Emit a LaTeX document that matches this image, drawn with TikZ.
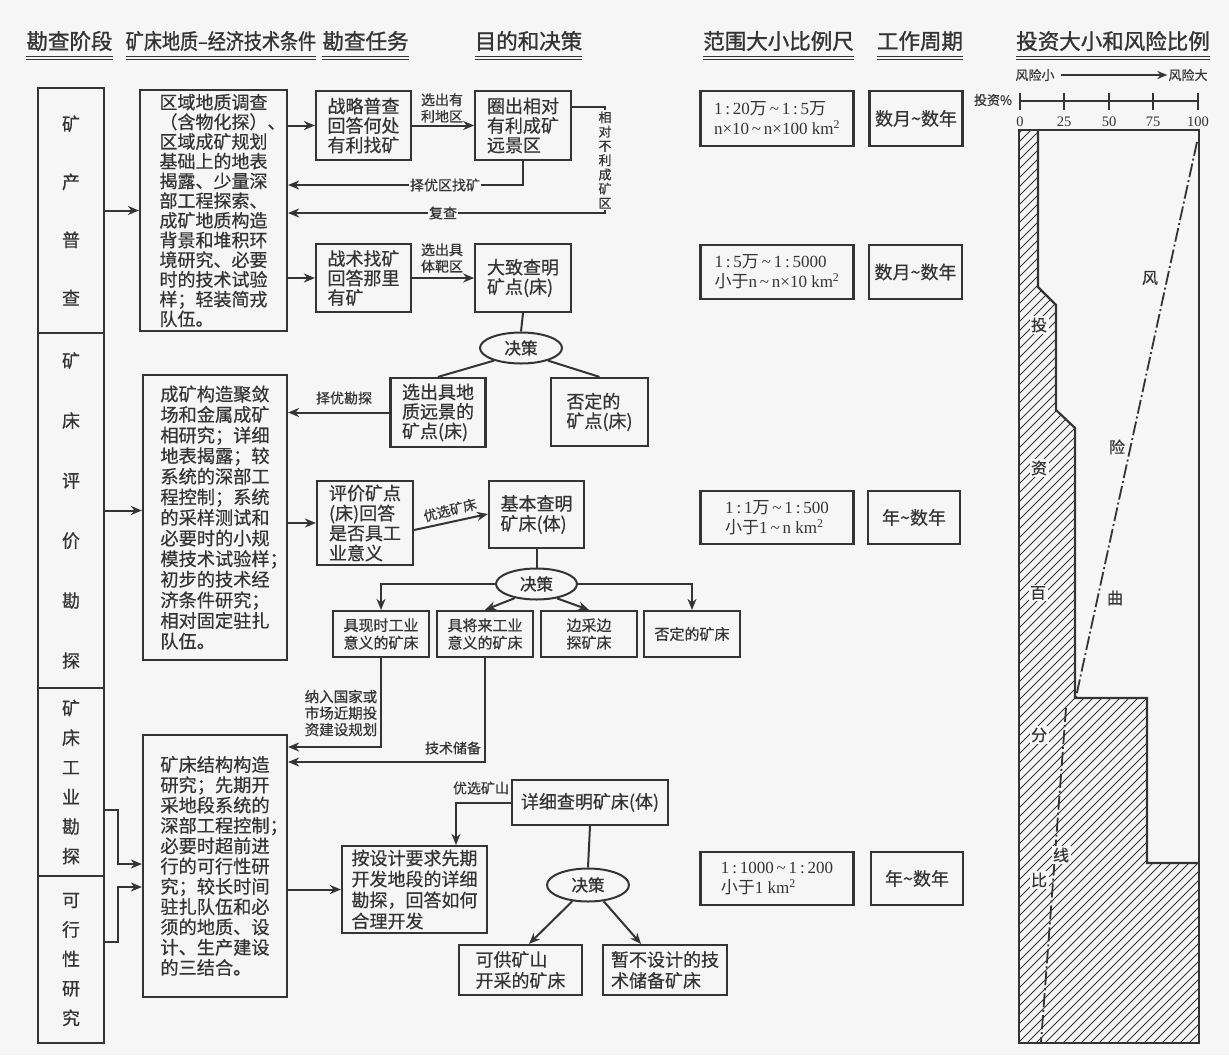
\documentclass[tikz,border=0pt]{standalone}
\usepackage{fontspec}
\usepackage{graphicx}
\setmainfont{Noto Sans CJK SC}
\newfontfamily\hdfont[FakeBold=1.2]{Noto Sans CJK SC}
\newfontfamily\bfont[FakeBold=0.5]{Noto Sans CJK SC}
\newfontfamily\ser{Liberation Serif}
\usetikzlibrary{arrows.meta,shapes.geometric}
\definecolor{bg}{HTML}{F6F6F6}
\definecolor{ink}{HTML}{343434}
\newcommand{\fsz}[2]{\fontsize{#1}{#2}\selectfont}
\newcommand{\tld}{\textasciitilde}
\begin{document}
\begin{tikzpicture}[x=1pt,y=-1pt,
 bx/.style={draw=ink,line width=2.2pt,inner sep=0pt,text=ink,align=left},
 hd/.style={inner sep=0pt,text=ink,font=\hdfont\fsz{21.5}{22}},
 ul/.style={draw=ink,line width=1.1pt},
 ln/.style={draw=ink,line width=2pt},
 arr/.style={draw=ink,line width=2pt,-{Stealth[length=11pt,width=9pt]}},
 lbl/.style={inner sep=1pt,text=ink,align=center,font=\bfont\fsz{14}{16.5}},
 dec/.style={draw=ink,line width=2pt,ellipse,inner sep=0pt,text=ink,font=\hdfont\fsz{16.5}{18}},
 num/.style={inner sep=0pt,text=ink,font=\ser\fsz{14.5}{16}},
 chl/.style={inner sep=1.5pt,text=ink,font=\bfont\fsz{16}{18}},
 hatch/.style={draw=ink,line width=0.8pt},
 risk/.style={draw=ink,line width=1.8pt,dash pattern=on 14pt off 3pt on 2pt off 3pt},
]
\fill[bg] (0,0) rectangle (1229,1055);
\useasboundingbox (0,0) rectangle (1229,1055);

% ---------- headers ----------
\node[hd] (h1) at (69.5,41) {勘查阶段};
\node[hd] (h2) at (221,41) {\scalebox{0.84}[1]{矿床地质–经济技术条件}};
\node[hd] (h3) at (365.5,41) {勘查任务};
\node[hd] (h4) at (528.5,41) {目的和决策};
\node[hd] (h5) at (778.5,41) {范围大小比例尺};
\node[hd] (h6) at (920,41) {工作周期};
\node[hd] (h7) at (1113,41) {投资大小和风险比例};
\foreach \i in {1,...,7}{
  \draw[ul] (h\i.west |- 0,56.5) -- (h\i.east |- 0,56.5);
  \draw[ul] (h\i.west |- 0,59.5) -- (h\i.east |- 0,59.5);
}

% ---------- stage boxes ----------
\node[bx,align=center,font=\bfont\fsz{18}{58},minimum width=66pt,minimum height=245pt] (st1) at (71,210.5) {矿\\产\\普\\查};
\node[bx,align=center,font=\bfont\fsz{18}{60},minimum width=66pt,minimum height=355pt] (st2) at (71,510.5) {矿\\床\\评\\价\\勘\\探};
\node[bx,align=center,font=\bfont\fsz{18}{29.6},minimum width=66pt,minimum height=188pt] (st3) at (71,782) {矿\\床\\工\\业\\勘\\探};
\node[bx,align=center,font=\bfont\fsz{18}{29.5},minimum width=66pt,minimum height=167pt] (st4) at (71,959.5) {可\\行\\性\\研\\究};

% ---------- condition boxes ----------
\node[bx,font=\bfont\fsz{18}{19.7},minimum width=147pt,minimum height=241pt] (cA) at (213.5,210.5)
 {区域地质调查\\（含物化探）\rlap{、}\\区域成矿规划\\基础上的地表\\揭露、少量深\\部工程探索、\\成矿地质构造\\背景和堆积环\\境研究、必要\\时的技术试验\\样；轻装简戎\\队伍。};
\node[bx,font=\bfont\fsz{18.2}{20.6},minimum width=144pt,minimum height=285pt] (cB) at (215,517.5)
 {成矿构造聚敛\\场和金属成矿\\相研究；详细\\地表揭露；较\\系统的深部工\\程控制；系统\\的采样测试和\\必要时的小规\\模技术试验样\rlap{；}\\初步的技术经\\济条件研究；\\相对固定驻扎\\队伍。};
\node[bx,font=\bfont\fsz{18.2}{20.3},minimum width=144pt,minimum height=262pt] (cC) at (215,866)
 {矿床结构构造\\研究；先期开\\采地段系统的\\深部工程控制\rlap{；}\\必要时超前进\\行的可行性研\\究；较长时间\\驻扎队伍和必\\须的地质、设\\计、生产建设\\的三结合。};

% ---------- task / decision boxes ----------
\node[bx,font=\bfont\fsz{18}{19.5},minimum width=95pt,minimum height=69pt] (t1) at (363.5,125.5) {战略普查\\回答何处\\有利找矿};
\node[bx,font=\bfont\fsz{18}{19.5},minimum width=95pt,minimum height=68pt] (t2) at (363.5,278) {战术找矿\\回答那里\\有矿};
\node[bx,font=\bfont\fsz{18}{19.5},minimum width=95.5pt,minimum height=69pt] (d1) at (523,125.5) {圈出相对\\有利成矿\\远景区};
\node[bx,font=\bfont\fsz{18}{19.5},minimum width=95.5pt,minimum height=68pt] (d2) at (523,278) {大致查明\\矿点(床)};
\node[dec,minimum width=82pt,minimum height=31pt] (e1) at (521,348) {决策};
\node[bx,font=\bfont\fsz{18}{19.5},minimum width=95pt,minimum height=69pt] (g1) at (438,412.5) {选出具地\\质远景的\\矿点(床)};
\node[bx,font=\bfont\fsz{18}{19.5},minimum width=97pt,minimum height=68pt] (g2) at (599.5,412) {否定的\\矿点(床)};
\node[bx,font=\bfont\fsz{18}{20},minimum width=96pt,minimum height=84pt] (t3) at (365,523) {评价矿点\\(床)回答\\是否具工\\业意义};
\node[bx,font=\bfont\fsz{18}{20},minimum width=95pt,minimum height=67pt] (d3) at (536.5,514.5) {基本查明\\矿床(体)};
\node[dec,minimum width=81pt,minimum height=31pt] (e2) at (536.5,584) {决策};
\node[bx,font=\bfont\fsz{15}{17.5},minimum width=96pt,minimum height=46pt] (f1) at (381,634) {具现时工业\\意义的矿床};
\node[bx,font=\bfont\fsz{15}{17.5},minimum width=96pt,minimum height=46pt] (f2) at (485,634) {具将来工业\\意义的矿床};
\node[bx,align=center,font=\bfont\fsz{15}{17.5},minimum width=96pt,minimum height=46pt] (f3) at (589,634) {边采边\\探矿床};
\node[bx,font=\bfont\fsz{15}{17.5},minimum width=96pt,minimum height=46pt] (f4) at (692,634) {否定的矿床};
\node[bx,font=\bfont\fsz{18}{20},minimum width=156pt,minimum height=45pt] (d4) at (590,802.5) {详细查明矿床(体)};
\node[bx,font=\bfont\fsz{18}{21},minimum width=145pt,minimum height=87pt] (t4) at (414.5,889.5) {按设计要求先期\\开发地段的详细\\勘探，回答如何\\合理开发};
\node[dec,minimum width=82pt,minimum height=33pt] (e3) at (588,885) {决策};
\node[bx,font=\bfont\fsz{18}{21},minimum width=123pt,minimum height=50pt] (h1b) at (520.5,970) {可供矿山\\开采的矿床};
\node[bx,font=\bfont\fsz{18}{21},minimum width=124pt,minimum height=50pt] (h2b) at (665,970) {暂不设计的技\\术储备矿床};

% ---------- scale / period boxes ----------
\node[bx,font=\fsz{17}{20},minimum width=153pt,minimum height=55pt] (s1) at (777,118.5)
 {{\ser 1\,:\,20}万{\ser\,\tld\,1\,:\,5}万\\{\ser n×10\,\tld\,n×100 km\textsuperscript{2}}};
\node[bx,font=\fsz{17}{20},minimum width=153pt,minimum height=54pt] (s2) at (777,272)
 {{\ser 1\,:\,5}万{\ser\,\tld\,1\,:\,5000}\\小于{\ser n\,\tld\,n×10 km\textsuperscript{2}}};
\node[bx,font=\fsz{17}{20},minimum width=153pt,minimum height=53pt] (s3) at (777,517.5)
 {{\ser 1\,:\,1}万{\ser\,\tld\,1\,:\,500}\\小于{\ser 1\,\tld\,n km\textsuperscript{2}}};
\node[bx,font=\fsz{17}{20},minimum width=153pt,minimum height=53pt] (s4) at (777,878.5)
 {{\ser 1\,:\,1000\,\tld\,1\,:\,200}\\小于{\ser 1 km\textsuperscript{2}}};
\node[bx,font=\bfont\fsz{18}{20},minimum width=93pt,minimum height=55pt] (p1) at (916,118.5) {数月\tld 数年};
\node[bx,font=\bfont\fsz{18}{20},minimum width=93pt,minimum height=54pt] (p2) at (915.5,272) {数月\tld 数年};
\node[bx,font=\bfont\fsz{18}{20},minimum width=92pt,minimum height=53pt] (p3) at (914,517.5) {年\tld 数年};
\node[bx,font=\bfont\fsz{18}{20},minimum width=92pt,minimum height=53pt] (p4) at (917,878.5) {年\tld 数年};

% ---------- connectors ----------
\draw[arr] (st1.east) -- (st1.east -| cA.west);
\draw[arr] (st2.east) -- (st2.east -| cB.west);
\coordinate (j1) at (118,0);
\draw[arr] (st3.east |- 0,810) -- (j1 |- 0,810) |- (cC.west |- 0,864);
\draw[arr] (st4.east |- 0,942) -- (j1 |- 0,942) |- (cC.west |- 0,887);

\draw[arr] (cA.east |- t1.west) -- (t1.west);
\draw[arr] (cA.east |- t2.west) -- (t2.west);
\draw[arr] (t1.east) -- (d1.west);
\draw[arr] (t2.east) -- (d2.west);
\draw[arr] (d1.south) |- (cA.east |- 0,185);
\coordinate (j2) at (605,0);
\draw[arr] (d1.east |- 0,107) -- (j2 |- 0,107) |- (cA.east |- 0,213);
\draw[ln] (d2.south) -- (e1.north);
\draw[ln] (e1.205) -- (g1.north);
\draw[ln] (e1.-25) -- (g2.north);
\draw[arr] (g1.west) -- (g1.west -| cB.east);
\draw[arr] (cB.east |- t3.west) -- (t3.west);
\draw[arr] (t3.east |- 0,530) -- (d3.west |- 0,514);
\draw[ln] (d3.south) -- (e2.north);
\draw[arr] (e2.west) -| (f1.north);
\draw[arr] (e2.213) -- (f2.north);
\draw[arr] (e2.-35) -- (f3.north);
\draw[arr] (e2.east) -| (f4.north);
\draw[arr] (f1.south) |- (cC.east |- 0,747);
\draw[arr] (f2.south) |- (cC.east |- 0,762);
\draw[arr] (cC.east |- t4.west) -- (t4.west);
\draw[arr] (d4.west) -| (t4.north -| 456,0);
\draw[ln] (d4.south) -- (e3.north);
\draw[arr] (e3.226) -- (h1b.north -| 529,0);
\draw[arr] (e3.-46) -- (h2b.north -| 641,0);

% ---------- connector labels ----------
\node[lbl] (l1) at (442,108) {选出有\\利地区};
\node[lbl] (l2) at (442,258) {选出具\\体靶区};
\node[lbl,fill=bg] (l3) at (445,185) {择优区找矿};
\node[lbl,fill=bg] (l4) at (443,213) {复查};
\node[lbl,fill=bg,font=\bfont\fsz{13}{14.3}] (l5) at (605,160) {相\\对\\不\\利\\成\\矿\\区};
\node[lbl] (l6) at (344,398) {择优勘探};
\node[lbl,rotate=14,inner sep=0pt,font=\bfont\fsz{13.5}{15}] (l7) at (450,510) {优选矿床};
\node[lbl,align=right,font=\bfont\fsz{14.5}{16.5}] (l8) at (341,713) {纳入国家或\\市场近期投\\资建设规划};
\node[lbl] (l9) at (453,748) {技术储备};
\node[lbl] (l10) at (481,788) {优选矿山};

% ---------- investment / risk chart ----------
\node[lbl,font=\bfont\fsz{13}{15}] (rk1) at (1035,75) {风险小};
\node[lbl,font=\bfont\fsz{13}{15}] (rk2) at (1188,75) {风险大};
\draw[draw=ink,line width=1.6pt,-{Stealth[length=10pt,width=8pt]},shorten <=5pt] (rk1.east) -- (rk2.west);
\node[lbl,font=\bfont\fsz{13}{15}] (inv) at (993,100) {投资\%};
\draw[draw=ink,line width=1.8pt] (1019,101) -- (1199,101);
\foreach \x/\v in {1020/0,1064/25,1109/50,1153/75,1198/100}{
  \draw[draw=ink,line width=1.6pt] (\x,93) -- (\x,110);
  \node[num] at (\x,122) {\v};
}
\begin{scope}
  \clip (1019,130) -- (1038,130) -- (1038,287) -- (1056,305) -- (1056,410) -- (1075,428) -- (1075,698)
   -- (1147,698) -- (1147,863) -- (1199,863) -- (1199,1043) -- (1019,1043) -- cycle;
  \foreach \x in {100,109,...,1210}{ \draw[hatch] (\x,1043) -- ++(913,-913); }
\end{scope}
\draw[draw=ink,line width=2.2pt,line join=miter] (1038,130) -- (1038,287) -- (1056,305) -- (1056,410) -- (1075,428) -- (1075,698)
   -- (1147,698) -- (1147,863) -- (1199,863);
\draw[draw=ink,line width=2.2pt] (1019,130) rectangle (1199,1043);
\draw[risk] (1197,142) -- (1076,697);
\draw[risk] (1066,708) -- (1041,1042);
\node[chl] at (1150,278) {风};
\node[chl] at (1117,447) {险};
\node[chl] at (1115,598) {曲};
\node[chl,fill=bg] at (1061,855) {线};
\node[chl,fill=bg] at (1039,325) {投};
\node[chl,fill=bg] at (1039,468) {资};
\node[chl,fill=bg] at (1038,593) {百};
\node[chl,fill=bg] at (1039,735) {分};
\node[chl,fill=bg] at (1039,880) {比};
\end{tikzpicture}
\end{document}
